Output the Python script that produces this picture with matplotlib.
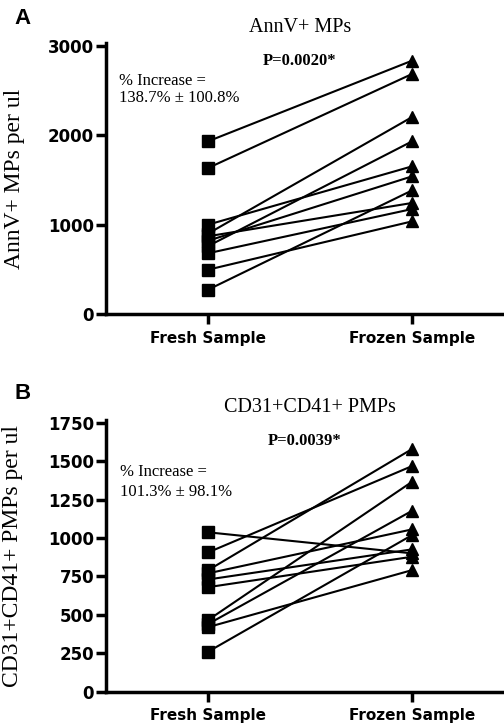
import matplotlib
matplotlib.use("Agg")
import matplotlib.pyplot as plt

# paired samples, fresh vs frozen (one line per subject)
groups = ["Fresh Sample", "Frozen Sample"]

annv_fresh = [1933, 1634, 1000, 900, 870, 820, 760, 680, 496, 272]
annv_frozen = [2836, 2687, 1653, 2205, 1243, 1541, 1933, 1175, 1037, 1384]
annv_ticks = [0, 1000, 2000, 3000]

pmp_fresh = [1037, 906, 790, 770, 730, 680, 466, 440, 420, 260]
pmp_frozen = [900, 1468, 1579, 1056, 926, 878, 1366, 1177, 791, 1019]
pmp_ticks = [0, 250, 500, 750, 1000, 1250, 1500, 1750]

W, H = 504, 725
SERIF = ["Liberation Serif", "DejaVu Serif"]
SANS = ["DejaVu Sans"]


def px_axes(fig, left, right, bottom, top):
    return fig.add_axes([left / W, 1 - bottom / H, (right - left) / W, (bottom - top) / H])


def ftext(fig, x, y, s, **kw):
    fig.text(x / W, 1 - y / H, s, **kw)


def draw_panel(ax, fresh, frozen, ticks, ymax, ylabel):
    for a, b in zip(fresh, frozen):
        ax.plot([1, 2], [a, b], color="black", lw=1.5, zorder=2)
    ax.plot([1] * len(fresh), fresh, "s", color="black", ms=8, zorder=3)
    ax.plot([2] * len(frozen), frozen, "^", color="black", ms=9, zorder=3)
    ax.set_xlim(0.5, 2.46)
    ax.set_ylim(0, ymax)
    ax.set_xticks([1, 2])
    ax.set_xticklabels(groups, fontsize=11, fontweight="bold", family=SANS)
    ax.set_yticks(ticks)
    ax.set_yticklabels([str(t) for t in ticks], fontsize=12, fontweight="bold", family=SANS)
    ax.tick_params(direction="out", length=7, width=2.5, color="black")
    ax.tick_params(axis="x", pad=5)
    ax.tick_params(axis="y", pad=1.5)
    for s in ["top", "right"]:
        ax.spines[s].set_visible(False)
    for s in ["left", "bottom"]:
        ax.spines[s].set_linewidth(2.5)
    ax.set_ylabel(ylabel, fontsize=17, family=SERIF, labelpad=4)


fig = plt.figure(figsize=(W / 100, H / 100), dpi=100)

# panel A
top_a = 314 - 268 * 3030 / 3000
ax1 = px_axes(fig, 106, 506, 314, top_a)
draw_panel(ax1, annv_fresh, annv_frozen, annv_ticks, 3030, "AnnV+ MPs per ul")
ax1.yaxis.set_label_coords(-(106 - 25) / 400, 0.5)
ftext(fig, 14, 8, "A", fontsize=16, fontweight="bold", family=["Liberation Sans"], va="top")
ftext(fig, 300, 28, "AnnV+ MPs", fontsize=14.5, family=SERIF, ha="center", va="center")
ftext(fig, 300, 61, "P=0.0020*", fontsize=12, fontweight="bold", family=SERIF, ha="center", va="center")
ftext(fig, 119, 81, "% Increase =", fontsize=12, family=SERIF, va="center")
ftext(fig, 119, 98, "138.7% \u00b1 100.8%", fontsize=12, family=SERIF, va="center")

# panel B
top_b = 691.7 - 269 * 1765 / 1750
ax2 = px_axes(fig, 106, 506, 691.7, top_b)
draw_panel(ax2, pmp_fresh, pmp_frozen, pmp_ticks, 1765, "CD31+CD41+ PMPs per ul")
ax2.yaxis.set_label_coords(-(106 - 23) / 400, 0.5)
ftext(fig, 14, 383, "B", fontsize=16, fontweight="bold", family=["Liberation Sans"], va="top")
ftext(fig, 310, 408, "CD31+CD41+ PMPs", fontsize=14.5, family=SERIF, ha="center", va="center")
ftext(fig, 305, 441, "P=0.0039*", fontsize=12, fontweight="bold", family=SERIF, ha="center", va="center")
ftext(fig, 120, 472, "% Increase =", fontsize=12, family=SERIF, va="center")
ftext(fig, 120, 492, "101.3% \u00b1 98.1%", fontsize=12, family=SERIF, va="center")

fig.savefig("out.png", dpi=100, facecolor="white")
